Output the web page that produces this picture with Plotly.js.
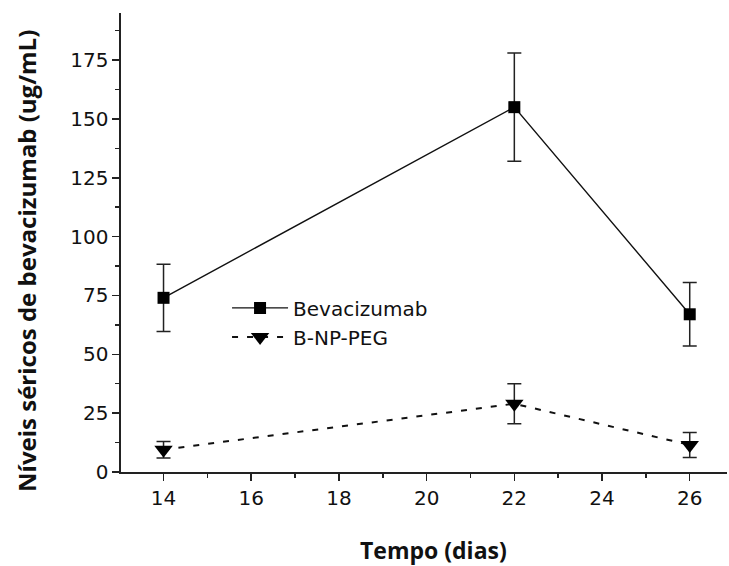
<!DOCTYPE html>
<html>
<head>
<meta charset="utf-8">
<script src="https://cdn.plot.ly/plotly-3.0.1.min.js"></script>
<style>html,body{margin:0;padding:0;background:#fff}#chart{width:729px;height:566px}</style>
</head>
<body>
<div id="chart"></div>
<script>
// Data
const days = [14, 22, 26];
const bevacizumab = [74, 155, 67];
const bevacizumabErr = [14.3, 23, 13.5];
const bnppeg = [9.5, 29, 11.5];
const bnppegErr = [3.5, 8.5, 5.3];
const seriesNames = ['Bevacizumab', 'B-NP-PEG'];
const xTitle = 'Tempo (dias)';
const yTitle = 'Níveis séricos de bevacizumab (ug/mL)';

const traces = [
  {
    x: days, y: bevacizumab, name: seriesNames[0], type: 'scatter', mode: 'lines+markers',
    line: {color: '#111', width: 1.4},
    marker: {symbol: 'square', size: 12, color: '#000'},
    error_y: {type: 'data', array: bevacizumabErr, visible: true, color: '#222', thickness: 1.5, width: 7}
  },
  {
    x: days, y: bnppeg, name: seriesNames[1], type: 'scatter', mode: 'lines+markers',
    line: {color: '#111', width: 2, dash: '6px,9px'},
    marker: {symbol: 'triangle-down', size: 16, color: '#000'},
    error_y: {type: 'data', array: bnppegErr, visible: true, color: '#222', thickness: 1.5, width: 7}
  }
];

const tickFont = {family: 'DejaVu Sans, sans-serif', size: 20, color: '#111'};

const layout = {
  width: 729, height: 566,
  margin: {l: 121, r: 2, t: 13, b: 94},
  paper_bgcolor: '#fff', plot_bgcolor: '#fff',
  showlegend: true,
  legend: {
    x: 0.175, y: 0.40, xanchor: 'left', yanchor: 'top',
    font: {family: 'DejaVu Sans, sans-serif', size: 20, color: '#111'},
    bgcolor: 'rgba(0,0,0,0)', itemwidth: 56, tracegroupgap: 0
  },
  xaxis: {
    range: [13.03, 26.85], tickmode: 'linear', tick0: 14, dtick: 2,
    showline: true, linecolor: '#222', linewidth: 1.6, mirror: false,
    ticks: 'outside', ticklen: 7, tickwidth: 1.5, tickcolor: '#222',
    minor: {dtick: 1, tick0: 14, ticks: 'outside', ticklen: 4, tickwidth: 1.5, tickcolor: '#222'},
    showgrid: false, zeroline: false, tickfont: tickFont
  },
  yaxis: {
    range: [0, 195], tickmode: 'linear', tick0: 0, dtick: 25,
    showline: true, linecolor: '#222', linewidth: 1.6,
    ticks: 'outside', ticklen: 7, tickwidth: 1.5, tickcolor: '#222',
    minor: {dtick: 12.5, tick0: 0, ticks: 'outside', ticklen: 4, tickwidth: 1.5, tickcolor: '#222'},
    showgrid: false, zeroline: false, tickfont: tickFont
  },
  annotations: [
    {text: '<b>' + xTitle + '</b>', xref: 'paper', yref: 'paper', x: 0.515, y: -0.17,
     xanchor: 'center', yanchor: 'middle', showarrow: false,
     font: {family: 'Open Sans, sans-serif', size: 23, color: '#111'}},
    {text: '<b>' + yTitle + '</b>', xref: 'paper', yref: 'paper', x: -0.155, y: 0.46,
     xanchor: 'center', yanchor: 'middle', showarrow: false, textangle: -90,
     font: {family: 'Open Sans, sans-serif', size: 24, color: '#111'}}
  ]
};

Plotly.newPlot('chart', traces, layout, {displayModeBar: false, staticPlot: true});
</script>
</body>
</html>
